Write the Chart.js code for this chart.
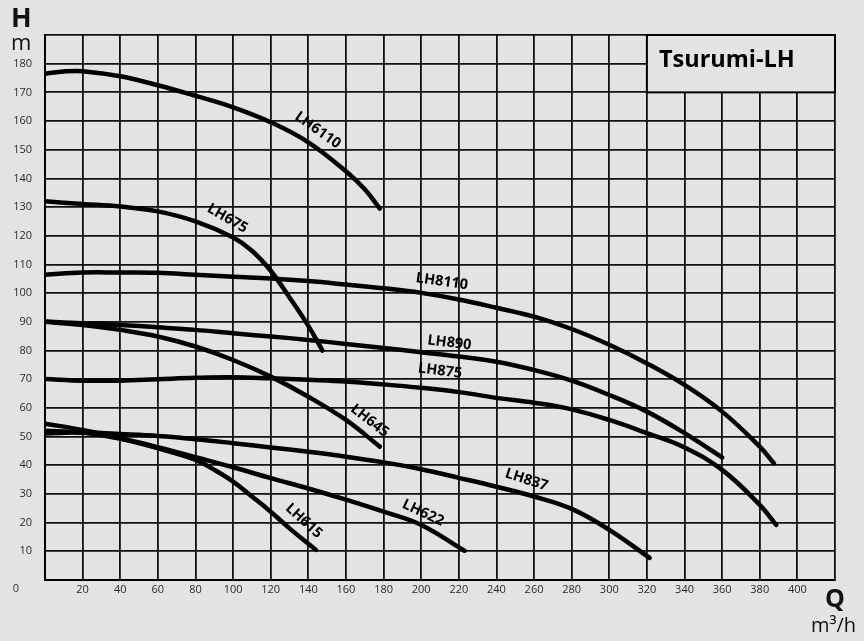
<!DOCTYPE html>
<html>
<head>
<meta charset="utf-8">
<script src="https://cdn.jsdelivr.net/npm/chart.js@4/dist/chart.umd.min.js"></script>
<style>
  html,body{margin:0;padding:0;background:#e2e3e5;}
  #wrap{width:864px;height:641px;}
</style>
</head>
<body>
<div id="wrap"><canvas id="c" width="864" height="641"></canvas></div>
<script>
// ---- Data (Q in m3/h, H in m) ----
const q6110 = [0,10,20,40,60,80,100,120,140,160,170,178];
const h6110 = [176.5,177.3,177.4,175.6,172.5,168.8,164.8,159.6,152.6,142.5,136.2,129.5];

const q675 = [0,20,40,60,80,100,110,120,130,140,147.5];
const h675 = [132,131.1,130.2,128.5,125,119.4,114.8,107.8,98.5,88.6,80];

const q8110 = [0,20,40,60,80,100,120,140,160,180,200,220,240,260,280,300,320,340,360,380,387.5];
const h8110 = [106.4,107.2,107.2,107.1,106.4,105.7,105.1,104.2,103.0,101.7,100.1,97.8,94.9,91.8,87.5,82,75.5,68,58.7,46.5,40.7];

const q890 = [0,20,40,60,80,100,120,140,160,180,200,220,240,260,280,300,320,340,360];
const h890 = [90.1,89.5,88.9,88.1,87.2,86,84.9,83.7,82.3,80.9,79.4,77.9,76.1,73.2,69.5,64.5,58.7,51.2,42.7];

const q875 = [0,20,40,60,80,100,120,140,160,180,200,220,240,260,280,300,320,340,360,380,388.7];
const h875 = [70.1,69.5,69.5,70,70.5,70.7,70.3,69.8,69.2,68.2,67,65.5,63.5,61.8,59.5,55.8,51.2,46.2,38.4,26.2,19.2];

const q645 = [0,20,40,60,80,100,120,140,160,178];
const h645 = [90,88.9,87.2,84.9,81.4,76.7,70.9,63.9,55.8,46.5];

const q837 = [0,20,40,60,80,100,120,140,160,180,200,220,240,260,280,300,321.4];
const h837 = [52,51.5,50.9,50.2,49.1,47.7,46.2,44.7,43,41,38.6,35.6,32.5,29.1,24.8,17.5,7.7];

const q622 = [0,20,40,60,80,100,120,140,160,180,200,223];
const h622 = [54.5,52.3,49.4,46.3,42.8,39.3,35.5,31.9,28,23.8,19.2,10.2];

const q615 = [0,20,40,60,80,90,100,110,120,130,144];
const h615 = [51.1,51.3,49.2,45.9,41.9,38.4,34.3,29.1,23.8,18,10.5];

// curve labels: name, Q, H (center), rotation in degrees
const labelNames = ['LH6110','LH675','LH8110','LH890','LH875','LH645','LH837','LH622','LH615'];
const labelQ     = [145, 97, 211, 215, 210, 172.6, 256, 201, 137.6];
const labelH     = [156.8, 126, 104, 82.7, 72.9, 55.5, 34.9, 23.4, 20.6];
const labelAngle = [35, 30, 8, 7, 7, 38, 18, 25, 42];

const titleText = 'Tsurumi-LH';
const xTickStep = 20, xMax = 420;
const yTickStep = 10, yMax = 190;

// ---- Build datasets ----
const series = [
  [q6110,h6110],[q675,h675],[q8110,h8110],[q890,h890],[q875,h875],
  [q645,h645],[q837,h837],[q622,h622],[q615,h615]
];
const BG = '#e2e3e5';
const datasets = series.map((s,i)=>({
  label: labelNames[i],
  data: s[0].map((q,j)=>({x:q,y:s[1][j]})),
  borderColor:'#000',
  borderWidth:4.5,
  borderCapStyle:'round',
  borderJoinStyle:'round',
  pointRadius:0,
  fill:false,
  tension:0.4
}));

const decor = {
  id:'decor',
  beforeDraw(chart){
    const ctx = chart.ctx;
    ctx.save();
    ctx.fillStyle = BG;
    ctx.fillRect(0,0,chart.width,chart.height);
    ctx.restore();
  },
  beforeDatasetsDraw(chart){
    const ctx = chart.ctx, x = chart.scales.x, y = chart.scales.y;
    const x0 = x.getPixelForValue(320), x1 = x.getPixelForValue(420);
    const y0 = y.getPixelForValue(190), y1 = y.getPixelForValue(170);
    ctx.save();
    ctx.fillStyle = BG;
    ctx.fillRect(x0,y0,x1-x0,y1-y0);
    ctx.strokeStyle = '#000';
    ctx.lineWidth = 2;
    ctx.strokeRect(x0,y0,x1-x0,y1-y0);
    ctx.fillStyle = '#000';
    ctx.font = 'bold 23.5px "Open Sans"';
    ctx.textBaseline = 'alphabetic';
    ctx.textAlign = 'left';
    ctx.fillText(titleText, x0+12, y0+32);
    ctx.restore();
  },
  afterDatasetsDraw(chart){
    const ctx = chart.ctx, x = chart.scales.x, y = chart.scales.y;
    ctx.save();
    ctx.fillStyle = '#000';
    ctx.font = 'bold 14.5px "Open Sans"';
    ctx.textAlign = 'center';
    ctx.textBaseline = 'middle';
    labelNames.forEach((n,i)=>{
      ctx.save();
      ctx.translate(x.getPixelForValue(labelQ[i]), y.getPixelForValue(labelH[i]));
      ctx.rotate(labelAngle[i]*Math.PI/180);
      ctx.fillText(n,0,0);
      ctx.restore();
    });
    // axis titles
    ctx.textAlign = 'left';
    ctx.textBaseline = 'alphabetic';
    ctx.fillStyle = '#111';
    ctx.font = 'bold 27px "Open Sans"';
    ctx.fillText('H', 11, 27);
    ctx.font = '22px "Open Sans"';
    ctx.fillText('m', 11, 50);
    ctx.font = 'bold 25px "Open Sans"';
    ctx.fillText('Q', 825, 607);
    ctx.font = '20px "Open Sans"';
    ctx.fillText('m³/h', 811, 632);
    // origin label
    ctx.font = '11px "Open Sans"';
    ctx.fillStyle = '#333';
    ctx.textAlign = 'center';
    ctx.textBaseline = 'middle';
    ctx.fillText('0', 16, 589);
    ctx.restore();
  }
};

new Chart(document.getElementById('c'), {
  type:'line',
  data:{datasets},
  plugins:[decor],
  options:{
    responsive:false,
    animation:false,
    events:[],
    layout:{padding:{top:35,right:29,left:0,bottom:0}},
    plugins:{legend:{display:false},tooltip:{enabled:false},title:{display:false}},
    scales:{
      x:{
        type:'linear', min:0, max:xMax,
        afterFit(s){ s.height = 61; },
        grid:{color:'#111', lineWidth:1.8, drawTicks:false},
        border:{display:true,color:'#000',width:2},
        ticks:{
          stepSize:xTickStep, padding:3, color:'#2a2a2a',
          font:{family:'"Open Sans"', size:11},
          maxRotation:0, autoSkip:false,
          callback:v=> (v===0||v===xMax)?'':String(v)
        }
      },
      y:{
        type:'linear', min:0, max:yMax,
        afterFit(s){ s.width = 45; },
        grid:{color:'#111', lineWidth:1.8, drawTicks:false},
        border:{display:true,color:'#000',width:2},
        ticks:{
          stepSize:yTickStep, padding:13, color:'#2a2a2a',
          font:{family:'"Open Sans"', size:11},
          autoSkip:false,
          callback:v=> (v===0||v===yMax)?'':String(v)
        }
      }
    }
  }
});
</script>
</body>
</html>
